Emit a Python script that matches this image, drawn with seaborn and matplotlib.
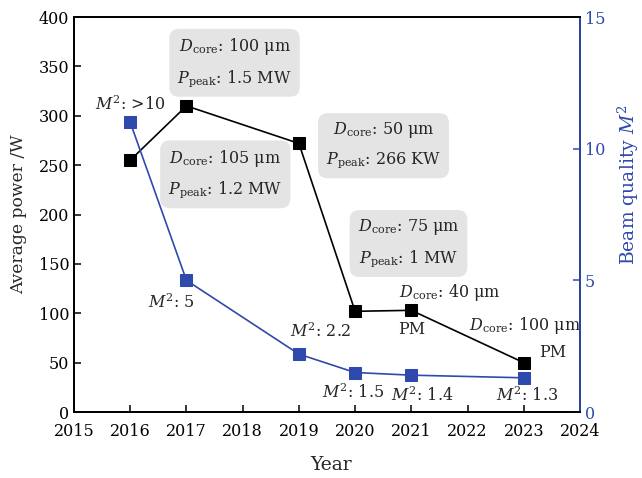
import matplotlib
matplotlib.use("Agg")
import matplotlib.pyplot as plt
import seaborn as sns
import pandas as pd

# Fiber laser progress: average power and beam quality by year
power_years = [2016, 2017, 2019, 2020, 2021, 2023]
avg_power = [255, 310, 272, 102, 103, 50]

m2_years = [2016, 2017, 2019, 2020, 2021, 2023]
beam_m2 = [11, 5, 2.2, 1.5, 1.4, 1.3]

x_ticks = [2015, 2016, 2017, 2018, 2019, 2020, 2021, 2022, 2023, 2024]
left_ticks = [0, 50, 100, 150, 200, 250, 300, 350, 400]
right_ticks = [0, 5, 10, 15]

BLUE = "#2f49ad"

sns.set_theme(style="white")
plt.rcParams["font.family"] = ["DejaVu Serif"]
plt.rcParams["mathtext.fontset"] = "dejavuserif"
plt.rcParams["font.size"] = 11

fig = plt.figure(figsize=(6.42, 4.78), dpi=100)
ax = fig.add_axes([0.1153, 0.138, 0.7881, 0.8264])
ax2 = ax.twinx()

df_p = pd.DataFrame({"Year": power_years, "Power": avg_power})
df_m = pd.DataFrame({"Year": m2_years, "M2": beam_m2})

sns.lineplot(data=df_p, x="Year", y="Power", ax=ax, color="black",
             marker="s", markersize=8.5, markeredgecolor="black",
             linewidth=1.2, zorder=3)
sns.lineplot(data=df_m, x="Year", y="M2", ax=ax2, color=BLUE,
             marker="s", markersize=8.5, markeredgecolor=BLUE,
             linewidth=1.2, zorder=3)

ax.set_xlim(2015, 2024)
ax.set_ylim(0, 400)
ax2.set_ylim(0, 15)
ax.set_xticks(x_ticks)
ax.set_xticklabels([str(v) for v in x_ticks])
ax.set_yticks(left_ticks)
ax2.set_yticks(right_ticks)

ax.set_xlabel("Year", fontsize=13.5)
ax.xaxis.set_label_coords(0.508, -0.112)
ax.set_ylabel("Average power /W", fontsize=12.3)
ax.yaxis.set_label_coords(-0.092, 0.5)
ax2.set_ylabel(r"Beam quality $M^2$", fontsize=13.5, color=BLUE)
ax2.yaxis.set_label_coords(1.07, 0.577)

for a in (ax, ax2):
    for s in a.spines.values():
        s.set_linewidth(1.3)
        s.set_color("black")
ax2.spines["right"].set_color(BLUE)

ax.tick_params(axis="both", direction="in", length=5, width=1.1,
               labelsize=11.5, colors="black", left=True, bottom=True)
ax.tick_params(axis="x", pad=8)
ax2.tick_params(axis="y", direction="in", length=5, width=1.1,
                labelsize=11.5, colors=BLUE, right=True)

box = dict(boxstyle="round,pad=0.5,rounding_size=0.6",
           facecolor="#e4e4e4", edgecolor="none")
fs = 11.5
ls = 1.75

# Fiber parameter boxes
ax.text(2017.855, 354, "$D_{\\rm core}$: 100 μm\n$P_{\\rm peak}$: 1.5 MW",
        ha="center", va="center", fontsize=fs, bbox=box, linespacing=ls)
ax.text(2017.69, 241, "$D_{\\rm core}$: 105 μm\n$P_{\\rm peak}$: 1.2 MW",
        ha="center", va="center", fontsize=fs, bbox=box, linespacing=ls)
ax.text(2020.505, 270, "$D_{\\rm core}$: 50 μm\n$P_{\\rm peak}$: 266 KW",
        ha="center", va="center", fontsize=fs, bbox=box, linespacing=ls)
ax.text(2020.95, 171, "$D_{\\rm core}$: 75 μm\n$P_{\\rm peak}$: 1 MW",
        ha="center", va="center", fontsize=fs, bbox=box, linespacing=ls)

ax.text(2021.69, 121, "$D_{\\rm core}$: 40 μm", ha="center", va="center", fontsize=fs)
ax.text(2021.01, 84, "PM", ha="center", va="center", fontsize=fs)
ax.text(2023.02, 88, "$D_{\\rm core}$: 100 μm", ha="center", va="center", fontsize=fs)
ax.text(2023.52, 60, "PM", ha="center", va="center", fontsize=fs)

# Beam quality labels
ax.text(2015.996, 311, "$M^2$: >10", ha="center", va="center", fontsize=fs)
ax.text(2016.74, 111, "$M^2$: 5", ha="center", va="center", fontsize=fs)
ax.text(2019.39, 81, "$M^2$: 2.2", ha="center", va="center", fontsize=fs)
ax.text(2019.96, 20, "$M^2$: 1.5", ha="center", va="center", fontsize=fs)
ax.text(2021.19, 17, "$M^2$: 1.4", ha="center", va="center", fontsize=fs)
ax.text(2023.06, 17, "$M^2$: 1.3", ha="center", va="center", fontsize=fs)

fig.savefig("out.png", dpi=100)
